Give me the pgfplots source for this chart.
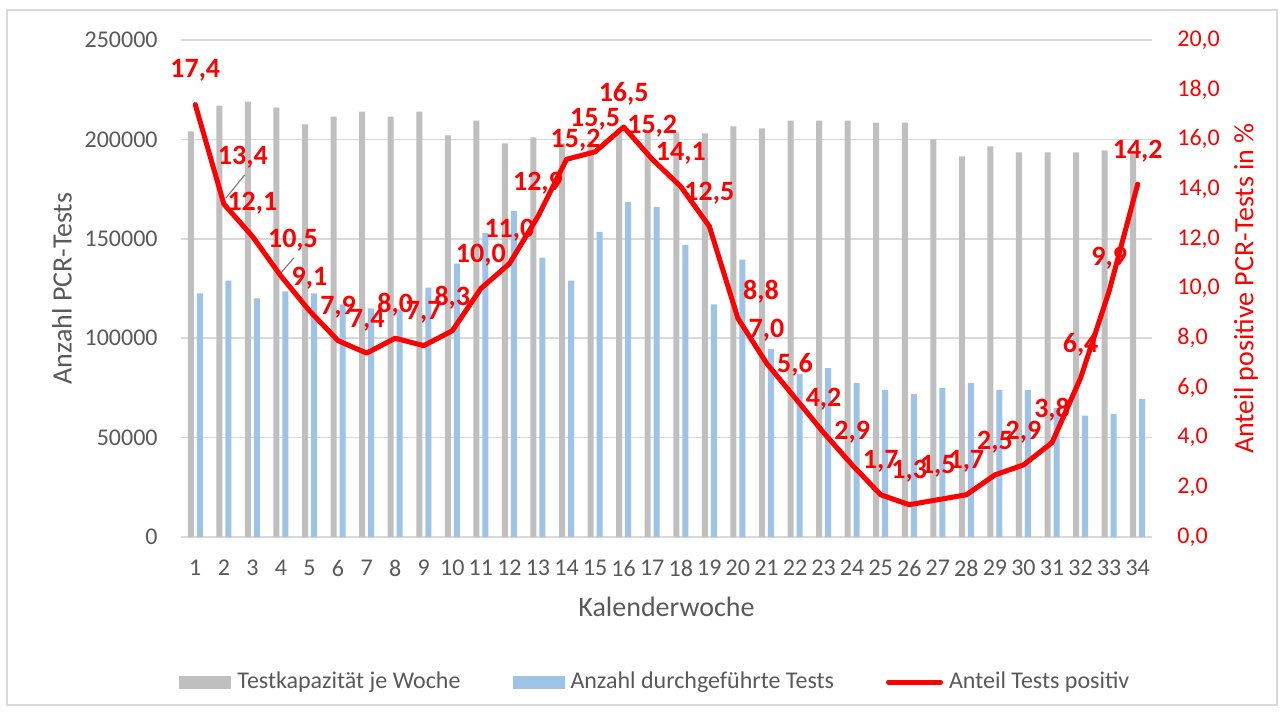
\documentclass[border=0pt]{standalone}
\usepackage{pgfplots}
\usepackage{pgfplotstable}
\pgfplotsset{compat=1.18}
\usepackage{fontspec}
\setmainfont{Carlito}
\definecolor{capgray}{HTML}{BFBFBF}
\definecolor{testblue}{HTML}{9DC3E6}
\definecolor{txtgray}{HTML}{595959}
\definecolor{gridgray}{HTML}{D9D9D9}

\pgfplotstableread{
week cap tests pos lbl dx dy
1 204000 122500 17.4 17,4 0 17.3
2 217000 129000 13.4 13,4 9.5 23.5
3 219000 120000 12.1 12,1 0 16.5
4 216000 123500 10.5 10,5 6 18
5 207500 122500 9.1 9,1 0 16.5
6 211500 117000 7.9 7,9 0 16.5
7 214000 115000 7.4 7,4 0 16.5
8 211500 114500 8.0 8,0 0 16.5
9 214000 125500 7.7 7,7 0 16.5
10 202000 137500 8.3 8,3 0 16.5
11 209500 153000 10.0 10,0 0 16.5
12 198000 164000 11.0 11,0 0 16.5
13 201000 140500 12.9 12,9 0 16.5
14 198000 129000 15.2 15,2 4.5 9.5
15 199000 153500 15.5 15,5 0 16.5
16 205000 168500 16.5 16,5 0 16.5
17 203500 166000 15.2 15,2 0 16.5
18 203500 147000 14.1 14,1 0 16.5
19 203000 117000 12.5 12,5 0 16.5
20 206500 139500 8.8 8,8 11.5 13.5
21 205500 94500 7.0 7,0 0 16.5
22 209500 82000 5.6 5,6 0 16.5
23 209500 85000 4.2 4,2 0 16.5
24 209500 77500 2.9 2,9 0 16.5
25 208500 74000 1.7 1,7 0 16.5
26 208500 72000 1.3 1,3 0 16.5
27 200000 75000 1.5 1,5 0 16.5
28 191500 77500 1.7 1,7 0 16.5
29 196500 74000 2.5 2,5 0 16.5
30 193500 74000 2.9 2,9 0 16.5
31 193500 65000 3.8 3,8 0 16.5
32 193500 61000 6.4 6,4 0 16.5
33 194500 62000 9.9 9,9 0 16.5
34 193000 69500 14.2 14,2 0 16.5
}\datatable

\begin{document}
\begin{tikzpicture}
\useasboundingbox (-90.5pt,-88pt) rectangle (551.5pt,268.5pt);
\draw[gridgray, line width=0.75pt] (-87pt,-84pt) rectangle (548pt,263.5pt);
\begin{axis}[
  scale only axis, width=485.5pt, height=248.5pt,
  xmin=0.5, xmax=34.5, ymin=0, ymax=250000,
  xtick={1,...,34}, ytick={0,50000,...,250000},
  scaled y ticks=false,
  yticklabel style={/pgf/number format/fixed, /pgf/number format/1000 sep={}, /pgf/number format/assume math mode=true, inner xsep=0pt, xshift=-11.5pt},
  xticklabel style={/pgf/number format/assume math mode=true, inner ysep=0pt, yshift=-11.5pt},
  ymajorgrids, grid style={gridgray, line width=0.75pt},
  axis line style={draw=none},
  major tick length=0pt,
  tick label style={font=\fontsize{12}{14}\selectfont, text=txtgray},
  xlabel={Kalenderwoche}, ylabel={Anzahl PCR-Tests},
  label style={font=\fontsize{14}{17}\selectfont, text=txtgray},
  xlabel style={at={(axis description cs:0.5,-0.1408)}, anchor=center},
  ylabel style={at={(axis description cs:-0.1226,0.5)}, anchor=center},
  legend columns=3,
  legend cell align=left,
  legend style={draw=none, fill=none, at={(axis description cs:-0.002,-0.2918)}, anchor=west,
    inner sep=0pt, font=\fontsize{12}{14}\selectfont, text=txtgray,
    nodes={inner sep=2pt},
    /tikz/every even column/.append style={column sep=24pt},
    /tikz/every odd column/.append style={column sep=1pt}},
]
\addplot[ybar, bar width=3pt, bar shift=-2.25pt, fill=capgray, draw=none,
  legend image code/.code={\fill[capgray] (0pt,-3.25pt) rectangle (26pt,3.25pt);}]
  table[x=week, y=cap] {\datatable};
\addlegendentry{Testkapazität je Woche}
\addplot[ybar, bar width=3pt, bar shift=2.25pt, fill=testblue, draw=none,
  legend image code/.code={\fill[testblue] (0pt,-3.25pt) rectangle (26pt,3.25pt);}]
  table[x=week, y=tests] {\datatable};
\addlegendentry{Anzahl durchgeführte Tests}
\addlegendimage{red, line width=2.5pt, line cap=round,
  legend image code/.code={\draw[red, line width=2.5pt, line cap=round] (1.25pt,0pt) -- (27.25pt,0pt);}}
\addlegendentry{Anteil Tests positiv}
\end{axis}
\begin{axis}[
  scale only axis, width=485.5pt, height=248.5pt,
  xmin=0.5, xmax=34.5, ymin=0, ymax=20,
  hide x axis,
  axis y line*=right,
  axis line style={draw=none},
  major tick length=0pt,
  ytick={0,2,...,20},
  yticklabel style={/pgf/number format/fixed, /pgf/number format/zerofill, /pgf/number format/precision=1, /pgf/number format/use comma, /pgf/number format/assume math mode=true, inner xsep=0pt, xshift=12.5pt, anchor=west},
  tick label style={font=\fontsize{12}{14}\selectfont, text=red},
  ylabel={Anteil positive PCR-Tests in \%},
  ylabel style={font=\fontsize{14}{17}\selectfont, text=red, at={(axis description cs:1.0968,0.5)}, anchor=center},
  clip=false,
]
\draw[gray, line width=0.6pt] (axis cs:2.07,13.64) -- (axis cs:2.73,14.57);
\draw[gray, line width=0.6pt] (axis cs:3.99,10.62) -- (axis cs:4.45,11.23);
\addplot[red, line width=2.5pt, line join=round, line cap=round,
  point meta=explicit symbolic,
  visualization depends on={\thisrow{dx} \as \dx},
  visualization depends on={\thisrow{dy} \as \dy},
  nodes near coords,
  nodes near coords style={anchor=center, inner sep=0pt, xshift=\dx pt, yshift=\dy pt,
    font=\fontsize{14}{17}\selectfont\bfseries, text=red}]
  table[x=week, y=pos, meta=lbl] {\datatable};
\end{axis}
\end{tikzpicture}
\end{document}
